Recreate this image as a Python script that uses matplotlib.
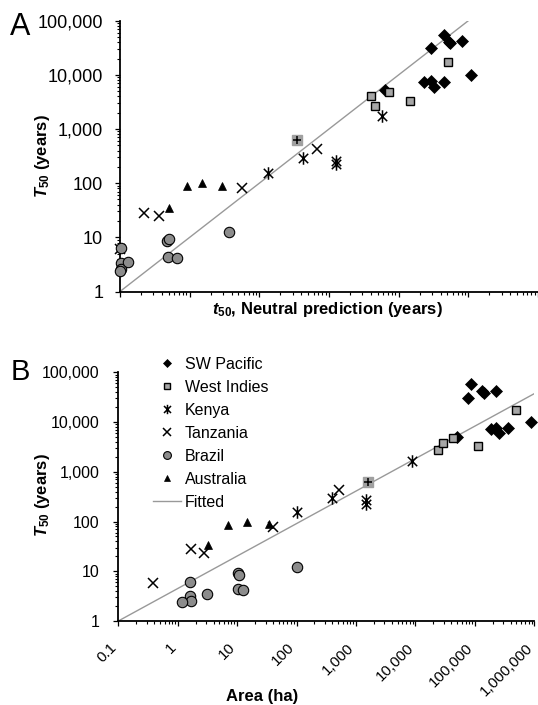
import matplotlib
matplotlib.use('Agg')
import matplotlib.pyplot as plt
import matplotlib.transforms as mtransforms
from matplotlib.path import Path
from matplotlib.ticker import LogLocator, NullFormatter, FuncFormatter
from matplotlib.lines import Line2D
import numpy as np

plt.rcParams['font.family'] = ['Liberation Sans', 'DejaVu Sans']
plt.rcParams['mathtext.fontset'] = 'custom'
plt.rcParams['mathtext.rm'] = 'Liberation Sans:bold'
plt.rcParams['mathtext.it'] = 'Liberation Sans:italic:bold'
plt.rcParams['mathtext.bf'] = 'Liberation Sans:bold'

# ---- panel A: t50 neutral prediction (x) vs observed T50 (y), years
a_pacific_x = [44200, 52600, 54000, 81800, 29400, 108000, 22800, 28800, 31800, 44600, 6440]
a_pacific_y = [54000, 40700, 39500, 42400, 30700, 9870, 7430, 7650, 5860, 7430, 5220]
a_windies_x = [50900, 4060, 4530, 7270, 14400]
a_windies_y = [17400, 4050, 2680, 4860, 3270]
a_kenya_x = [132, 425, 1250, 1250, 5760]
a_kenya_y = [152, 287, 256, 225, 1750]
a_tanz_x = [1.0, 2.21, 3.66, 56.7, 683]
a_tanz_y = [6.0, 28.4, 24.7, 80.2, 421]
a_brazil_x = [1.02, 1.02, 1.02, 1.0, 1.32, 4.67, 5.09, 4.83, 6.5, 36.9]
a_brazil_y = [6.27, 3.31, 2.57, 2.4, 3.55, 8.65, 9.42, 4.28, 4.1, 12.4]
a_austr_x = [5.09, 9.22, 14.8, 29.3]
a_austr_y = [34.3, 89.5, 99.1, 89.5]
a_mixed_x = [348]
a_mixed_y = [624]
a_line = [1, 100000]

# ---- panel B: area (ha) vs T50 (years)
b_pacific_x = [86700, 76300, 131000, 144000, 229000, 188000, 228000, 257000, 359000, 877000, 50900]
b_pacific_y = [57400, 31100, 42400, 39200, 42400, 7200, 7540, 5980, 7540, 9950, 4970]
b_windies_x = [490000, 24400, 28900, 43600, 112000]
b_windies_y = [17600, 2760, 3870, 4880, 3320]
b_kenya_x = [101, 392, 1480, 1480, 8690]
b_kenya_y = [154, 303, 272, 226, 1680]
b_tanz_x = [0.388, 1.66, 2.77, 40.6, 520]
b_tanz_y = [5.73, 28.1, 23.7, 78.9, 432]
b_brazil_x = [1.62, 1.62, 1.7, 1.2, 3.1, 10.4, 10.6, 10.4, 12.5, 101]
b_brazil_y = [6.18, 3.18, 2.56, 2.44, 3.49, 9.12, 8.43, 4.34, 4.2, 12.4]
b_austr_x = [3.27, 7.11, 14.5, 34.8]
b_austr_y = [33.8, 85.5, 99.5, 89.5]
b_mixed_x = [1620]
b_mixed_y = [618]
# fitted: log10 T = slope * log10 A + intercept
fit_slope = 0.653
fit_intercept = 0.653

labels = ['SW Pacific', 'West Indies', 'Kenya', 'Tanzania', 'Brazil', 'Australia', 'Fitted']

# asterisk: vertical bar plus an x
kenya_marker = Path([(0, -1), (0, 1), (-0.75, -0.75), (0.75, 0.75), (-0.75, 0.75), (0.75, -0.75)],
                    [Path.MOVETO, Path.LINETO, Path.MOVETO, Path.LINETO, Path.MOVETO, Path.LINETO])

styles = {
    'pacific': dict(marker='D', ms=5.8, mfc='black', mec='black', mew=0.5),
    'windies': dict(marker='s', ms=6, mfc='#a6a6a6', mec='black', mew=1),
    'kenya': dict(marker=kenya_marker, ms=9, mfc='none', mec='black', mew=1.1),
    'tanz': dict(marker='x', ms=7.5, mec='black', mew=1.1),
    'brazil': dict(marker='o', ms=7.5, mfc='#8c8c8c', mec='black', mew=0.8),
    'austr': dict(marker='^', ms=6.2, mfc='black', mec='black', mew=0.5),
}
line_color = '#999999'

fig = plt.figure(figsize=(5.38, 7.05), dpi=100)
W, H = 538.0, 705.0


def tick_fmt(v, pos):
    if v < 1:
        return '{:g}'.format(v)
    return '{:,.0f}'.format(v)


def style_axes(ax, ylab_pad):
    ax.set_xscale('log')
    ax.set_yscale('log')
    for s in ['top', 'right']:
        ax.spines[s].set_visible(False)
    for s in ['left', 'bottom']:
        ax.spines[s].set_linewidth(1.3)
    ax.yaxis.set_major_locator(LogLocator(base=10, numticks=20))
    ax.yaxis.set_minor_locator(LogLocator(base=10, subs=np.arange(2, 10), numticks=20))
    ax.xaxis.set_major_locator(LogLocator(base=10, numticks=20))
    ax.xaxis.set_minor_locator(LogLocator(base=10, subs=np.arange(2, 10), numticks=20))
    ax.yaxis.set_minor_formatter(NullFormatter())
    ax.xaxis.set_minor_formatter(NullFormatter())
    ax.yaxis.set_major_formatter(FuncFormatter(tick_fmt))
    ax.tick_params(which='major', direction='out', length=3.6, width=0.9)
    ax.tick_params(which='minor', direction='out', length=2.2, width=0.8)
    ax.tick_params(axis='y', pad=ylab_pad)


def draw(ax, data):
    for key, x, y in data:
        ax.plot(x, y, ls='none', clip_on=False, zorder=3, **styles[key])


def draw_mixed(ax, x, y):
    ax.plot(x, y, ls='none', marker='s', ms=7, mfc='#a0a0a0', mec='#a0a0a0', clip_on=False, zorder=3)
    ax.plot(x, y, ls='none', marker='+', ms=6, mec='black', mew=1.1, clip_on=False, zorder=4)


# ---------- panel A
axA = fig.add_axes([120 / W, 1 - 291.5 / H, 418 / W, 270.8 / H])
style_axes(axA, 8.5)
axA.set_xlim(1, 1e6)
axA.set_ylim(1, 1e5)
axA.xaxis.set_major_formatter(NullFormatter())
axA.tick_params(axis='y', labelsize=13)
axA.plot(a_line, a_line, color=line_color, lw=1, zorder=2)
draw(axA, [('pacific', a_pacific_x, a_pacific_y), ('windies', a_windies_x, a_windies_y),
           ('kenya', a_kenya_x, a_kenya_y), ('tanz', a_tanz_x, a_tanz_y),
           ('brazil', a_brazil_x, a_brazil_y), ('austr', a_austr_x, a_austr_y)])
draw_mixed(axA, a_mixed_x, a_mixed_y)

fig.text(10 / W, 1 - 35 / H, 'A', fontsize=22, va='baseline', ha='left')
fig.text(43 / W, 1 - 156 / H, r'$\mathit{T}_{50}$ (years)', rotation=90, fontsize=12,
         fontweight='bold', ha='center', va='center')
fig.text(327.5 / W, 1 - 309 / H, r'$\mathit{t}_{50}$, Neutral prediction (years)', fontsize=12,
         fontweight='bold', ha='center', va='center')

# ---------- panel B
axB = fig.add_axes([118.3 / W, 1 - 621 / H, 416 / W, 248.7 / H])
style_axes(axB, 10)
axB.set_xlim(0.1, 1e6)
axB.set_ylim(1, 1e5)
axB.xaxis.set_major_formatter(FuncFormatter(tick_fmt))
axB.tick_params(axis='y', labelsize=11.5)
axB.tick_params(axis='x', labelsize=11, pad=14)
shift = mtransforms.ScaledTranslation(-3 / 72, 0, fig.dpi_scale_trans)
for lab in axB.get_xticklabels():
    lab.set_rotation(45)
    lab.set_ha('right')
    lab.set_va('center')
    lab.set_rotation_mode('anchor')
    lab.set_transform(lab.get_transform() + shift)

fx = np.array(axB.get_xlim())
axB.plot(fx, 10 ** (fit_slope * np.log10(fx) + fit_intercept), color=line_color, lw=1, zorder=2)
draw(axB, [('pacific', b_pacific_x, b_pacific_y), ('windies', b_windies_x, b_windies_y),
           ('kenya', b_kenya_x, b_kenya_y), ('tanz', b_tanz_x, b_tanz_y),
           ('brazil', b_brazil_x, b_brazil_y), ('austr', b_austr_x, b_austr_y)])
draw_mixed(axB, b_mixed_x, b_mixed_y)

handles = [Line2D([], [], ls='none', **styles[k]) for k in ['pacific', 'windies', 'kenya', 'tanz', 'brazil', 'austr']]
handles.append(Line2D([], [], color=line_color, lw=1))
fig.legend(handles, labels, loc='upper left', bbox_to_anchor=(153 / W, 1 - 357 / H),
           frameon=False, fontsize=11.5, borderpad=0, borderaxespad=0, handlelength=1.75,
           handletextpad=0.25, labelspacing=0.5, markerscale=0.75)

fig.text(11 / W, 1 - 380 / H, 'B', fontsize=21, va='baseline', ha='left')
fig.text(43 / W, 1 - 495 / H, r'$\mathit{T}_{50}$ (years)', rotation=90, fontsize=12,
         fontweight='bold', ha='center', va='center')
fig.text(262.5 / W, 1 - 697 / H, 'Area (ha)', fontsize=12, fontweight='bold', ha='center', va='center')

fig.savefig('out.png', dpi=100)
